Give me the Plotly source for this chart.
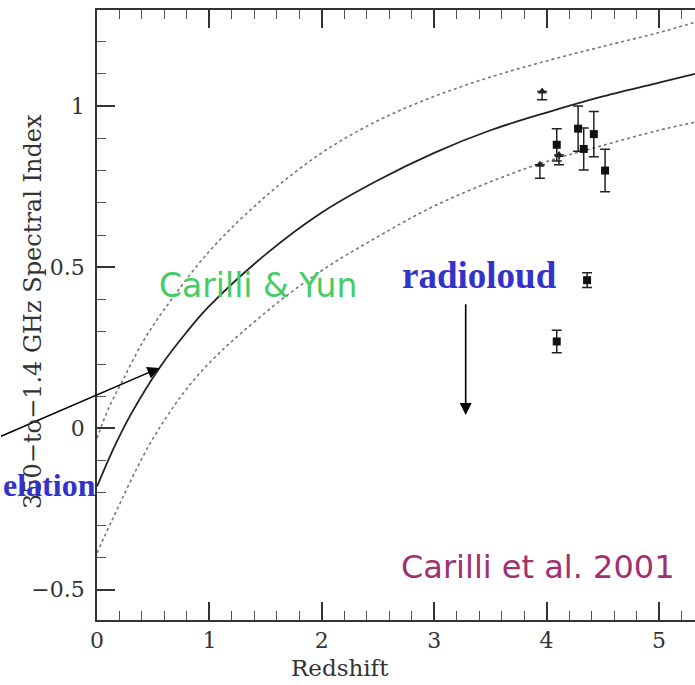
import plotly.graph_objects as go

# ---- data ----
# model curves (Carilli & Yun relation, central and +/- envelopes)
z_mid = [0.0, 0.15, 0.3, 0.56, 0.8, 1.0, 1.5, 2.0, 2.5, 3.0, 3.5, 4.0, 4.5, 5.0, 5.32]
a_mid = [-0.18, -0.06, 0.043, 0.19, 0.30, 0.38, 0.54, 0.67, 0.77, 0.855, 0.925, 0.98, 1.03, 1.073, 1.10]

z_up = [0.0, 0.1, 0.23, 0.41, 0.6, 1.0, 1.5, 2.0, 2.5, 3.0, 3.5, 4.0, 4.5, 5.0, 5.32]
a_up = [-0.03, 0.06, 0.15, 0.27, 0.37, 0.55, 0.72, 0.855, 0.955, 1.03, 1.09, 1.14, 1.185, 1.228, 1.26]

z_lo = [0.0, 0.14, 0.5, 0.91, 1.5, 2.0, 2.5, 3.0, 3.58, 4.0, 4.47, 5.0, 5.32]
a_lo = [-0.386, -0.28, -0.03, 0.17, 0.36, 0.49, 0.595, 0.69, 0.776, 0.828, 0.875, 0.925, 0.95]

# measured sources (filled squares with error bars)
src_z = [4.09, 4.28, 4.33, 4.42, 4.52, 4.36, 4.09]
src_a = [0.88, 0.93, 0.867, 0.913, 0.80, 0.46, 0.27]
src_err = [0.05, 0.07, 0.065, 0.07, 0.066, 0.023, 0.035]

# limits (triangles with bar below)
lim_z = [3.96, 3.94, 4.11]
lim_a = [1.045, 0.818, 0.848]
lim_bar = [0.025, 0.042, 0.03]

x_ticks = [0, 1, 2, 3, 4, 5]
y_ticks = [-0.5, 0, 0.5, 1]
y_ticktext = ["\u22120.5", "0", "0.5", "1"]

# geometry (page pixels; body margin removed by post_script)
W, H = 695, 685
L, R, T, B = 97, 0, 10, 65
PW, PH = W - L - R, H - T - B


def px_x(p):  # page pixel -> paper x
    return (p - L) / PW


def px_y(p):  # page pixel -> paper y
    return (H - B - p) / PH


fig = go.Figure()

fig.add_trace(go.Scatter(x=z_up, y=a_up, mode="lines", line=dict(color="#777", width=1.6, dash="dot", shape="spline"),
                         showlegend=False, hoverinfo="skip"))
fig.add_trace(go.Scatter(x=z_lo, y=a_lo, mode="lines", line=dict(color="#777", width=1.6, dash="dot", shape="spline"),
                         showlegend=False, hoverinfo="skip"))
fig.add_trace(go.Scatter(x=z_mid, y=a_mid, mode="lines", line=dict(color="#222", width=1.8, shape="spline"),
                         showlegend=False, hoverinfo="skip"))

fig.add_trace(go.Scatter(x=lim_z, y=lim_a, mode="markers",
                         marker=dict(symbol="triangle-up", size=8, color="#222"),
                         error_y=dict(type="data", symmetric=False, array=[0] * len(lim_z), arrayminus=lim_bar,
                                      color="#222", thickness=1.5, width=5),
                         showlegend=False))
fig.add_trace(go.Scatter(x=src_z, y=src_a, mode="markers",
                         marker=dict(symbol="square", size=8, color="#111"),
                         error_y=dict(type="data", array=src_err, color="#222", thickness=1.5, width=5),
                         showlegend=False))

ann = [
    dict(x=1.43, y=0.442, text="Carilli &amp; Yun", showarrow=False, xanchor="center", yanchor="middle",
         font=dict(family="DejaVu Sans", size=33, color="#44cc66")),
    dict(x=3.92, y=-0.43, text="Carilli et al. 2001", showarrow=False, xanchor="center", yanchor="middle",
         font=dict(family="DejaVu Sans", size=32, color="#a03070")),
    dict(x=3.40, y=0.473, text="<b>radioloud</b>", showarrow=False, xanchor="center", yanchor="middle",
         font=dict(family="Liberation Serif", size=37, color="#3333cc")),
    dict(x=3.28, y=0.042, ax=3.28, ay=0.39, xref="x", yref="y", axref="x", ayref="y",
         text="", showarrow=True, arrowhead=2, arrowsize=1.5, arrowwidth=1.6, arrowcolor="#000", standoff=0),
    dict(x=0.556, y=0.188, ax=-0.867, ay=-0.026, xref="x", yref="y", axref="x", ayref="y",
         text="", showarrow=True, arrowhead=2, arrowsize=1.5, arrowwidth=1.6, arrowcolor="#000", standoff=0),
    # axis titles
    dict(x=px_x(340), y=px_y(668), xref="paper", yref="paper", text="Redshift", showarrow=False,
         xanchor="center", yanchor="middle", font=dict(family="DejaVu Serif", size=23, color="#333")),
    dict(x=px_x(33), y=px_y(312), xref="paper", yref="paper", text="350\u2212to\u22121.4 GHz Spectral Index",
         showarrow=False, textangle=-90, xanchor="center", yanchor="middle",
         font=dict(family="DejaVu Serif", size=24, color="#333")),
    dict(x=px_x(1), y=px_y(485), xref="paper", yref="paper", text="<b>elation</b>", showarrow=False,
         xanchor="left", yanchor="middle", font=dict(family="Liberation Serif", size=32, color="#3333cc")),
]

fig.update_layout(
    width=W, height=H,
    margin=dict(l=L, r=R, t=T, b=B, autoexpand=False),
    paper_bgcolor="white", plot_bgcolor="white",
    annotations=ann,
    font=dict(family="DejaVu Serif", color="#333"),
)

fig.update_xaxes(
    range=[0, 5.32], tickvals=x_ticks, ticks="inside", ticklen=18, tickwidth=1.5, tickcolor="#333",
    minor=dict(dtick=0.2, ticks="inside", ticklen=9, tickwidth=1.2, tickcolor="#555"),
    showline=True, linecolor="#333", linewidth=1.8, mirror="ticks", showgrid=False, zeroline=False,
    tickfont=dict(family="DejaVu Serif", size=22, color="#333"), automargin=False,
)
fig.update_yaxes(
    range=[-0.594, 1.298], tickvals=y_ticks, ticktext=y_ticktext, ticks="inside", ticklen=18, tickwidth=1.5,
    tickcolor="#333",
    minor=dict(dtick=0.1, ticks="inside", ticklen=9, tickwidth=1.2, tickcolor="#555"),
    showline=True, linecolor="#333", linewidth=1.8, mirror=False, showgrid=False, zeroline=False,
    tickfont=dict(family="DejaVu Serif", size=22, color="#333"), automargin=False, ticklabelstandoff=6,
)

fig.write_html("out.html", config={"displayModeBar": False},
               post_script="document.body.style.margin='0';document.body.style.overflow='hidden';")
